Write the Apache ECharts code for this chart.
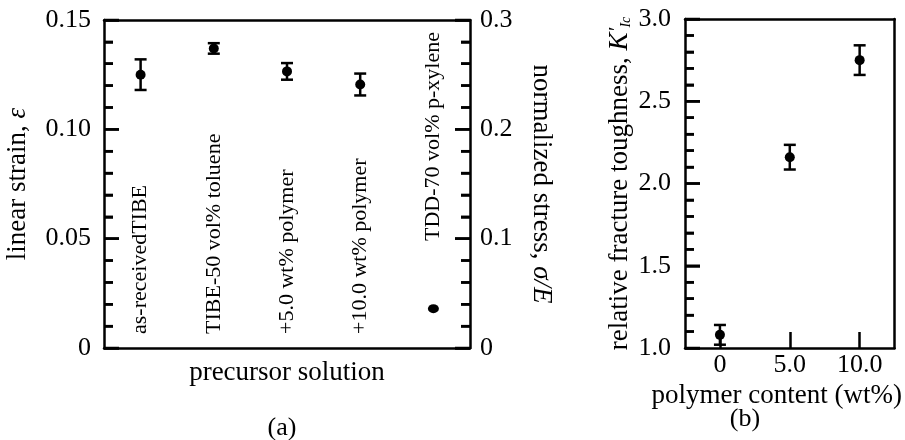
<!DOCTYPE html>
<html>
<head>
<meta charset="utf-8">
<script src="https://cdn.jsdelivr.net/npm/echarts@6/dist/echarts.min.js"></script>
<style>
  html, body { margin: 0; padding: 0; background: #fff; }
  #main { width: 905px; height: 440px; }
</style>
</head>
<body>
<div id="main"></div>
<script>
// (a) precursor solutions
const categories = ['as-receivedTIBE', 'TIBE-50 vol% toluene', '+5.0 wt% polymer', '+10.0 wt% polymer', 'TDD-70 vol% p-xylene'];
const strainMean = [0.125, 0.137, 0.1265, 0.1205, null];
const strainErr = [0.007, 0.0024, 0.0038, 0.005, null];
const stressMean = [null, null, null, null, 0.036];
const strainTicks = [0, 0.05, 0.10, 0.15];
const stressTicks = [0, 0.1, 0.2, 0.3];

// (b) polymer content
const polymerContent = [0, 5, 10];
const toughMean = [1.08, 2.16, 2.75];
const toughErr = [0.06, 0.075, 0.09];
const toughTicks = [1.0, 1.5, 2.0, 2.5, 3.0];
const xTickValues = [0, 5, 10];
const xTickLabels = ['0', '5.0', '10.0'];
const X_MIN = -2.5;
const X_MAX = 12.5;

const FONT = '"Liberation Serif", "DejaVu Serif", serif';
const INK = '#000';

// minor tick positions: 5 steps between labelled ticks
function minorValues(ticks) {
    const out = [];
    for (let i = 0; i < ticks.length - 1; i++) {
        const step = (ticks[i + 1] - ticks[i]) / 5;
        for (let k = 1; k < 5; k++) out.push(ticks[i] + k * step);
    }
    return out;
}

document.addEventListener('DOMContentLoaded', function () {
    const chart = echarts.init(document.getElementById('main'), null, { renderer: 'canvas' });

    // error bars, drawn via the axes' own coordinate mapping
    function errorBar(params, api) {
        const x = api.value(0);
        const y = api.value(1);
        const e = api.value(2);
        const top = api.coord([x, y + e]);
        const bot = api.coord([x, y - e]);
        const hw = 6;
        const st = { stroke: INK, lineWidth: 2.5 };
        return {
            type: 'group',
            children: [
                { type: 'line', shape: { x1: top[0], y1: top[1], x2: bot[0], y2: bot[1] }, style: st },
                { type: 'line', shape: { x1: top[0] - hw, y1: top[1], x2: top[0] + hw, y2: top[1] }, style: st },
                { type: 'line', shape: { x1: bot[0] - hw, y1: bot[1], x2: bot[0] + hw, y2: bot[1] }, style: st }
            ]
        };
    }

    // inward y ticks as thin rects, placed through the axis scales
    function tickItem(side, bandEdge) {
        return function (params, api) {
            const p = api.coord([api.value(0), api.value(1)]);
            const len = api.value(2);
            let x0 = p[0];
            if (bandEdge) {
                const bw = api.size([1, 0])[0];
                x0 += side === 'left' ? -bw / 2 : bw / 2;
            }
            const xs = side === 'left' ? x0 : x0 - len;
            return {
                type: 'rect',
                shape: { x: xs, y: p[1] - 1.25, width: len, height: 2.5 },
                style: { fill: INK }
            };
        };
    }
    function tickSeries(xi, yi, side, major, xRef, bandEdge) {
        const data = major.map(function (v) { return [xRef, v, 15]; })
            .concat(minorValues(major).map(function (v) { return [xRef, v, 9]; }));
        return {
            type: 'custom', xAxisIndex: xi, yAxisIndex: yi, z: 5, clip: false,
            data: data,
            renderItem: tickItem(side, bandEdge)
        };
    }

    const strainBars = [];
    categories.forEach(function (c, i) {
        if (strainMean[i] != null) strainBars.push([i, strainMean[i], strainErr[i]]);
    });
    const toughBars = polymerContent.map(function (x, i) { return [x, toughMean[i], toughErr[i]]; });

    const axisLine = function () { return { show: true, onZero: false, lineStyle: { color: INK, width: 2.5 } }; };
    const nativeTick = function () { return { show: true, inside: true, length: 15, lineStyle: { color: INK, width: 2.5 } }; };
    const nativeMinor = function () { return { show: true, splitNumber: 5, length: 9, lineStyle: { color: INK, width: 2.5 } }; };
    const tickLabel = { color: INK, fontFamily: FONT, fontSize: 26 };
    const nameStyle = { color: INK, fontFamily: FONT, fontSize: 27 };
    const italic = { fontStyle: 'italic', fontFamily: FONT, fontSize: 27, color: INK };

    // frame side drawn as a bare axis line
    function frameAxis(grid, pos) {
        return {
            type: 'value', gridIndex: grid, position: pos, min: 0, max: 1,
            axisLine: axisLine(), axisTick: { show: false }, axisLabel: { show: false },
            splitLine: { show: false }
        };
    }

    const catData = categories.map(function (c, i) {
        if (i === 4) return { value: c, textStyle: { padding: [0, 0, 0, 93] } };
        return c;
    });
    const lastCat = categories.length - 1;

    const option = {
        backgroundColor: '#fff',
        animation: false,
        grid: [
            { left: 104, top: 20, width: 366, height: 328, show: false },
            { left: 685, top: 19, width: 217, height: 329, show: false }
        ],
        xAxis: [
            {
                type: 'category',
                gridIndex: 0,
                position: 'bottom',
                data: catData,
                boundaryGap: true,
                axisLine: axisLine(),
                axisTick: { show: false },
                axisLabel: {
                    inside: true, rotate: 90, interval: 0, margin: 14,
                    color: INK, fontFamily: FONT, fontSize: 22
                },
                splitLine: { show: false },
                name: 'precursor solution',
                nameLocation: 'middle',
                nameGap: 11,
                nameTextStyle: nameStyle
            },
            {
                type: 'value',
                gridIndex: 1,
                position: 'bottom',
                min: X_MIN,
                max: X_MAX,
                axisLine: axisLine(),
                axisTick: { show: true, inside: true, length: 16, customValues: xTickValues, lineStyle: { color: INK, width: 2.5 } },
                axisLabel: Object.assign({
                    margin: 4,
                    customValues: xTickValues,
                    formatter: function (v) { return xTickLabels[xTickValues.indexOf(v)]; }
                }, tickLabel),
                splitLine: { show: false },
                name: 'polymer content (wt%)',
                nameLocation: 'middle',
                nameGap: 30,
                nameTextStyle: Object.assign({ padding: [0, 26, 0, 0] }, nameStyle)
            },
            frameAxis(0, 'top'),
            frameAxis(1, 'top')
        ],
        yAxis: [
            {
                type: 'value',
                gridIndex: 0,
                position: 'left',
                min: 0, max: 0.15, interval: 0.05,
                axisLine: axisLine(),
                axisTick: nativeTick(),
                minorTick: nativeMinor(),
                axisLabel: Object.assign({
                    margin: 13,
                    formatter: function (v) { return v === 0 ? '0' : v.toFixed(2); }
                }, tickLabel),
                splitLine: { show: false },
                name: 'linear strain, {i|ε}',
                nameLocation: 'middle',
                nameGap: 73,
                nameTextStyle: Object.assign({ rich: { i: italic } }, nameStyle)
            },
            {
                type: 'value',
                gridIndex: 0,
                position: 'right',
                min: 0, max: 0.3, interval: 0.1,
                axisLine: axisLine(),
                axisTick: nativeTick(),
                minorTick: nativeMinor(),
                axisLabel: Object.assign({
                    margin: 10,
                    formatter: function (v) { return v === 0 ? '0' : v.toFixed(1); }
                }, tickLabel),
                splitLine: { show: false },
                name: 'normalized stress, {i|σ/E}',
                nameLocation: 'middle',
                nameRotate: -90,
                nameGap: 58,
                nameTextStyle: Object.assign({ rich: { i: italic } }, nameStyle)
            },
            {
                type: 'value',
                gridIndex: 1,
                position: 'left',
                min: 1, max: 3, interval: 0.5,
                axisLine: axisLine(),
                axisTick: nativeTick(),
                minorTick: nativeMinor(),
                axisLabel: Object.assign({
                    margin: 14,
                    formatter: function (v) { return v.toFixed(1); }
                }, tickLabel),
                splitLine: { show: false },
                name: 'relative fracture toughness, {k|K}{p|′}{s|Ic}',
                nameLocation: 'middle',
                nameGap: 52,
                nameTextStyle: Object.assign({
                    rich: {
                        k: italic,
                        p: { fontStyle: 'italic', fontFamily: FONT, fontSize: 22, color: INK, verticalAlign: 'top' },
                        s: { fontStyle: 'italic', fontFamily: FONT, fontSize: 14, color: INK, verticalAlign: 'bottom' }
                    }
                }, nameStyle)
            },
            frameAxis(1, 'right')
        ],
        series: [
            {
                type: 'scatter',
                xAxisIndex: 0, yAxisIndex: 0,
                data: strainMean,
                symbol: 'circle', symbolSize: 10,
                itemStyle: { color: INK, opacity: 1 }
            },
            {
                type: 'custom',
                xAxisIndex: 0, yAxisIndex: 0,
                data: strainBars,
                renderItem: errorBar,
                z: 1
            },
            {
                type: 'scatter',
                xAxisIndex: 0, yAxisIndex: 1,
                data: stressMean,
                symbol: 'circle', symbolSize: [11, 9],
                itemStyle: { color: INK, opacity: 1 }
            },
            {
                type: 'scatter',
                xAxisIndex: 1, yAxisIndex: 2,
                data: polymerContent.map(function (x, i) { return [x, toughMean[i]]; }),
                symbol: 'circle', symbolSize: 10,
                itemStyle: { color: INK, opacity: 1 }
            },
            {
                type: 'custom',
                xAxisIndex: 1, yAxisIndex: 2,
                data: toughBars,
                renderItem: errorBar,
                z: 1
            },
            tickSeries(0, 0, 'left', strainTicks, 0, true),
            tickSeries(0, 1, 'right', stressTicks, lastCat, true),
            tickSeries(1, 2, 'left', toughTicks, X_MIN, false)
        ],
        graphic: [
            { type: 'text', x: 282, y: 428, style: { text: '(a)', align: 'center', verticalAlign: 'middle', font: '26px ' + FONT, fill: INK } },
            { type: 'text', x: 745, y: 419, style: { text: '(b)', align: 'center', verticalAlign: 'middle', font: '26px ' + FONT, fill: INK } }
        ]
    };

    chart.setOption(option);
    window.addEventListener('resize', function () { chart.resize(); });
});
</script>
</body>
</html>
